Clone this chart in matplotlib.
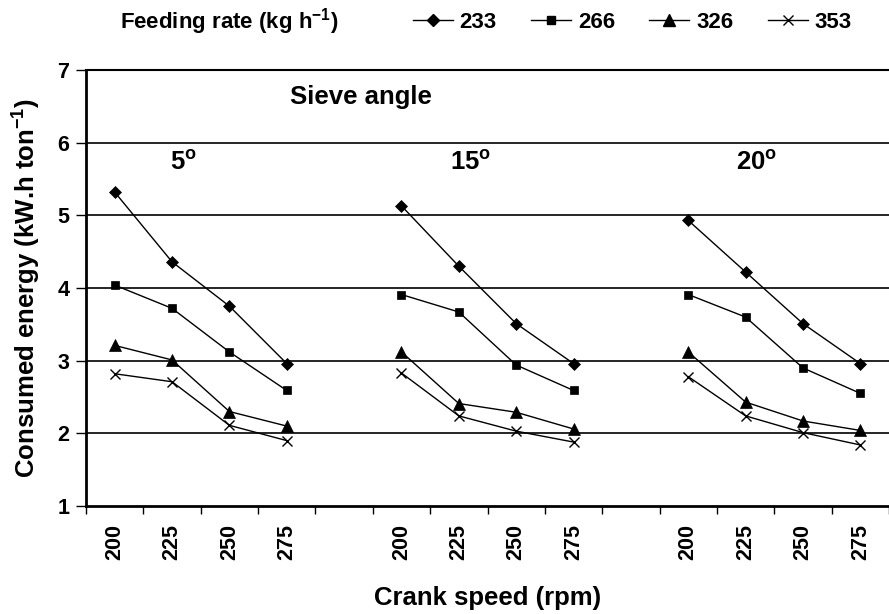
import numpy as np
import matplotlib
matplotlib.use('Agg')
import matplotlib.pyplot as plt
from matplotlib.lines import Line2D

plt.rcParams['font.family'] = 'Liberation Sans'
plt.rcParams['font.weight'] = 'bold'
plt.rcParams['mathtext.fontset'] = 'custom'
plt.rcParams['mathtext.rm'] = 'Liberation Sans:bold'
plt.rcParams['mathtext.it'] = 'Liberation Sans:bold'
plt.rcParams['mathtext.bf'] = 'Liberation Sans:bold'

# data
speeds = [200, 225, 250, 275]
angles = ['5', '15', '20']
feed_rates = ['233', '266', '326', '353']

energy_233 = [[5.32, 4.36, 3.75, 2.96], [5.13, 4.30, 3.51, 2.96], [4.93, 4.22, 3.51, 2.96]]
energy_266 = [[4.04, 3.72, 3.12, 2.59], [3.91, 3.67, 2.94, 2.59], [3.91, 3.60, 2.90, 2.55]]
energy_326 = [[3.21, 3.01, 2.30, 2.10], [3.12, 2.41, 2.29, 2.06], [3.12, 2.43, 2.17, 2.04]]
energy_353 = [[2.82, 2.71, 2.11, 1.90], [2.83, 2.24, 2.03, 1.88], [2.78, 2.24, 2.01, 1.84]]

series = [energy_233, energy_266, energy_326, energy_353]
markers = ['D', 's', '^', 'x']
msizes = [6, 6, 9, 7.5]

fig = plt.figure(figsize=(8.89, 6.14), dpi=100)
ax = fig.add_axes([86 / 889, 108 / 614, 803 / 889, 436 / 614])

gap = len(speeds) + 1
for vals, mk, ms in zip(series, markers, msizes):
    for g, group in enumerate(vals):
        xs = [g * gap + i for i in range(len(speeds))]
        ax.plot(xs, group, color='black', lw=1, marker=mk, markersize=ms,
                markerfacecolor='black', markeredgecolor='black',
                markeredgewidth=1 if mk == 'x' else 0.5)

ax.set_ylim(1, 7)
ax.set_xlim(-0.5, -0.5 + 803 / 57.75)
ax.set_yticks(range(1, 8))
ax.set_yticklabels([str(v) for v in range(1, 8)], fontsize=15.5, fontweight='bold')
for y in range(2, 7):
    ax.axhline(y, color='black', lw=1.2, zorder=0)

# category boundaries as major ticks, labels at centres
ax.set_xticks(np.arange(-0.5, 14, 1.0))
ax.set_xticklabels([])
centres = [g * gap + i for g in range(len(angles)) for i in range(len(speeds))]
ax.set_xticks(centres, minor=True)
ax.set_xticklabels([str(s) for _ in angles for s in speeds], minor=True,
                   rotation=90, fontsize=15.5, fontweight='bold')
ax.tick_params(axis='x', which='minor', length=0, pad=13)
ax.tick_params(axis='x', which='major', length=6, width=1, direction='out')
ax.tick_params(axis='y', length=7, width=1, direction='out', pad=5)

ax.spines['right'].set_visible(False)
ax.spines['left'].set_linewidth(2)
ax.spines['bottom'].set_linewidth(2)
ax.spines['top'].set_linewidth(1.5)

ax.set_ylabel('Consumed energy (kW.h ton$^{-1}$)', fontsize=18.5, fontweight='bold', labelpad=10)
ax.set_xlabel('Crank speed (rpm)', fontsize=18.5, fontweight='bold', labelpad=19)

ax.text(4.3, 6.63, 'Sieve angle', fontsize=18.5, fontweight='bold', ha='center', va='center')
for g, a in enumerate(angles):
    ax.text(g * gap + 1.2, 5.72, a + '$^{o}$', fontsize=18.5, fontweight='bold',
            ha='center', va='center')

# legend across the top
fig.text(120 / 889, 1 - 22 / 614, 'Feeding rate (kg h$^{-1}$)', fontsize=16,
         fontweight='bold', ha='left', va='center')
handles = [Line2D([], [], color='black', lw=1, marker=mk, markersize=ms,
                  markerfacecolor='black', markeredgecolor='black')
           for mk, ms in zip(markers, msizes)]
fig.legend(handles, feed_rates, loc='center left', bbox_to_anchor=(413 / 889, 1 - 22 / 614),
           ncol=4, frameon=False, handlelength=1.8, handletextpad=0.3,
           columnspacing=1.55, borderpad=0, borderaxespad=0,
           prop={'weight': 'bold', 'size': 16})

fig.savefig('out.png', dpi=100)
